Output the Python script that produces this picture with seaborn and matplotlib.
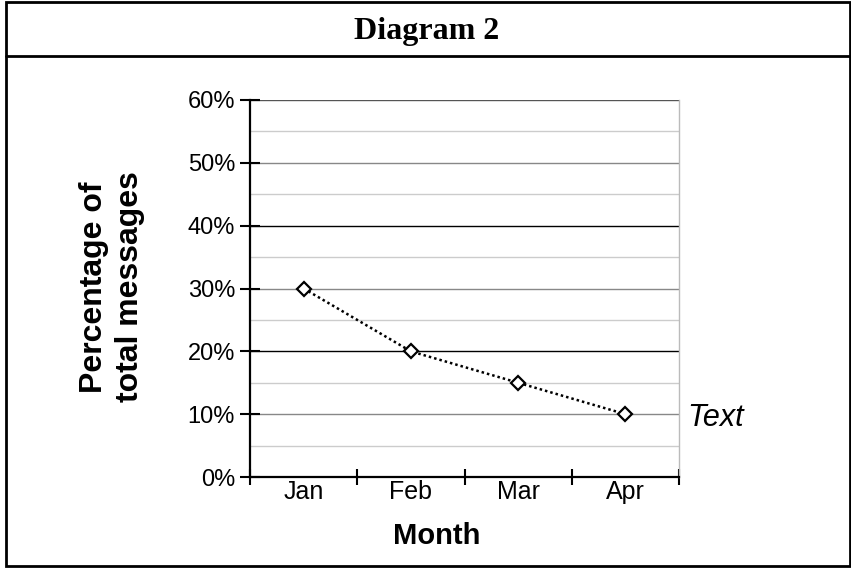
import numpy as np
import matplotlib
matplotlib.use("Agg")
import matplotlib.pyplot as plt
import seaborn as sns
from matplotlib.patches import Rectangle
from matplotlib.lines import Line2D
from matplotlib.ticker import MultipleLocator, FixedLocator, PercentFormatter

# data
months = ['Jan', 'Feb', 'Mar', 'Apr']
share = [0.30, 0.20, 0.15, 0.10]
y_ticks = [0.0, 0.1, 0.2, 0.3, 0.4, 0.5, 0.6]
title = 'Diagram 2'
y_label = 'Percentage of\ntotal messages'
x_label = 'Month'
side_note = 'Text'

sns.set_style("white")
plt.rcParams['font.family'] = ['Liberation Sans', 'DejaVu Sans']
plt.rcParams['text.color'] = 'black'
plt.rcParams['xtick.color'] = 'black'
plt.rcParams['ytick.color'] = 'black'
plt.rcParams['axes.labelcolor'] = 'black'

fig = plt.figure(figsize=(8.51, 5.68), dpi=100)
ax = fig.add_axes([250 / 851, 1 - 477 / 568, 429 / 851, 377 / 568])

x_pos = np.arange(len(months))
sns.lineplot(x=x_pos, y=share, ax=ax, color='black', lw=1.8,
             linestyle=(0, (1, 1.2)), marker='D', markersize=7,
             markerfacecolor='white', markeredgecolor='black',
             markeredgewidth=1.6, zorder=5)

# axes limits / ticks
ax.set_xlim(-0.5, len(months) - 0.5)
ax.set_ylim(0, 0.6)
ax.yaxis.set_major_locator(FixedLocator(y_ticks))
ax.yaxis.set_minor_locator(MultipleLocator(0.05))
ax.yaxis.set_major_formatter(PercentFormatter(1.0, decimals=0))
ax.set_xticks(np.arange(len(months) + 1) - 0.5)
ax.set_xticklabels([])
ax.set_xticks(x_pos, minor=True)
ax.set_xticklabels(months, minor=True)

ax.tick_params(axis='y', which='major', left=True, direction='inout',
               length=14.4, width=1.5, color='black', pad=3.6,
               labelsize=17, labelcolor='black')
ax.tick_params(axis='y', which='minor', left=False, length=0)
ax.tick_params(axis='x', which='major', bottom=True, direction='inout',
               length=12.2, width=1.5, color='black')
ax.tick_params(axis='x', which='minor', bottom=True, length=0, pad=2,
               labelsize=18, labelcolor='black')
ax.set_xlabel('')
ax.set_ylabel('')

# gridlines
ax.grid(axis='y', which='minor', color='#cccccc', lw=1.0)
ax.grid(axis='y', which='major', lw=1.0)
grid_cols = ['black', '#888888', 'black', '#888888', 'black', '#888888', '#555555']
for gl, c in zip(ax.get_ygridlines(), grid_cols):
    gl.set_color(c)
ax.set_axisbelow(True)

for s in ['left', 'bottom']:
    ax.spines[s].set_color('black')
    ax.spines[s].set_linewidth(1.6)
ax.spines['top'].set_visible(False)
ax.spines['right'].set_color('#bbbbbb')
ax.spines['right'].set_linewidth(1.0)

# axis titles
fig.text(112 / 851, 1 - 287 / 568, y_label, rotation=90, ha='center',
         va='center', fontsize=23, fontweight='bold', linespacing=1.3)
fig.text(437 / 851, 1 - 536 / 568, x_label, ha='center', va='center',
         fontsize=21, fontweight='bold')
fig.text(687 / 851, 1 - 418 / 568, side_note, ha='left', va='center',
         fontsize=22, fontstyle='italic')

# title band and outer frame
fig.text(427 / 851, 1 - 39 / 568, title, ha='center', va='baseline',
         fontsize=23, fontweight='bold', family=['Liberation Serif', 'DejaVu Serif'])
fig.patches.append(Rectangle((5.5 / 851, 2 / 568), 844 / 851, 564 / 568,
                             transform=fig.transFigure, fill=False,
                             edgecolor='black', lw=2.0))
fig.lines.append(Line2D([5.5 / 851, 849.5 / 851], [1 - 55.5 / 568] * 2,
                        transform=fig.transFigure, color='black', lw=2.0))

fig.savefig('out.png', dpi=100)
plt.close(fig)
